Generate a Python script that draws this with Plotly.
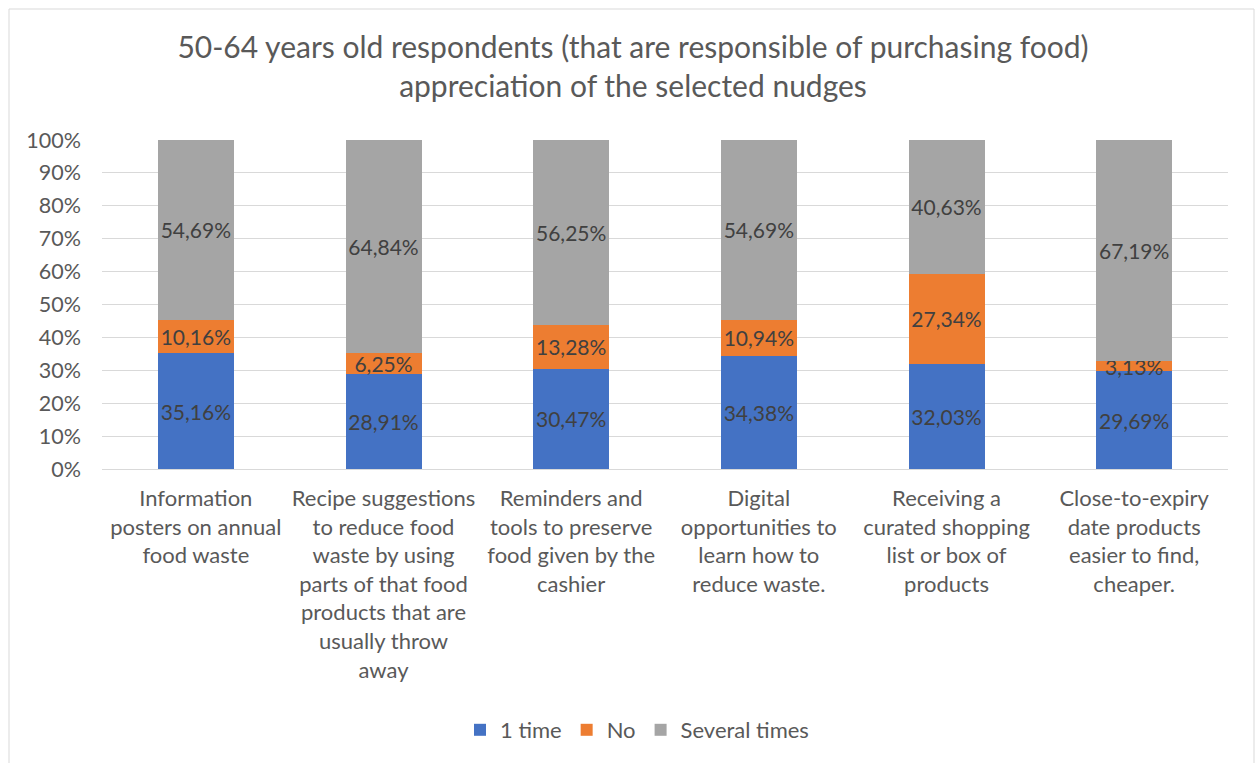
import plotly.graph_objects as go

categories = [
    "Information<br>posters on annual<br>food waste",
    "Recipe suggestions<br>to reduce food<br>waste by using<br>parts of that food<br>products that are<br>usually throw<br>away",
    "Reminders and<br>tools to preserve<br>food given by the<br>cashier",
    "Digital<br>opportunities to<br>learn how to<br>reduce waste.",
    "Receiving a<br>curated shopping<br>list or box of<br>products",
    "Close-to-expiry<br>date products<br>easier to find,<br>cheaper.",
]
one_time = [35.16, 28.91, 30.47, 34.38, 32.03, 29.69]
no = [10.16, 6.25, 13.28, 10.94, 27.34, 3.13]
several_times = [54.69, 64.84, 56.25, 54.69, 40.63, 67.19]

series = [
    ("1 time", one_time, "#4472C4"),
    ("No", no, "#ED7D31"),
    ("Several times", several_times, "#A5A5A5"),
]

FONT = "Lato"
W, H = 1257, 763
L, R, T, B = 102, 29, 140, 294
plot_w, plot_h = W - L - R, H - T - B

fig = go.Figure()
for name, vals, color in series:
    fig.add_trace(go.Bar(
        name=name,
        x=list(range(len(categories))),
        y=vals,
        marker=dict(color=color, line=dict(width=0)),
        texttemplate="%{y:.2f}%",
        textposition="inside",
        insidetextanchor="middle",
        constraintext="none",
        textangle=0,
        textfont=dict(family=FONT, size=21, color="#404040"),
        hoverinfo="skip",
    ))

# chart frame
def px_x(p):
    return (p - L) / plot_w

def px_y(p):
    return (H - B - p) / plot_h

fig.add_shape(type="rect", xref="paper", yref="paper",
              x0=px_x(9), x1=px_x(1254), y0=px_y(775), y1=px_y(9),
              line=dict(color="#D9D9D9", width=1), fillcolor="rgba(0,0,0,0)",
              layer="below")

fig.update_layout(
    width=W, height=H,
    margin=dict(l=L, r=R, t=T, b=B, autoexpand=False),
    paper_bgcolor="white", plot_bgcolor="white",
    barmode="stack", bargap=0.595,
    separators=",.",
    font=dict(family=FONT, color="#595959"),
    title=dict(
        text="50-64 years old respondents (that are responsible of purchasing food)<br>appreciation of the selected nudges",
        font=dict(family=FONT, size=30, color="#595959"),
        x=633 / W, xanchor="center", xref="container",
        y=1 - 58 / H, yanchor="top", yref="container",
    ),
    xaxis=dict(
        tickmode="array", tickvals=list(range(len(categories))), ticktext=categories,
        range=[-0.5, len(categories) - 0.5],
        showgrid=False, showline=False, zeroline=False, ticks="",
        tickfont=dict(family=FONT, size=22, color="#595959"),
        tickangle=0,
        ticklabelstandoff=14,
    ),
    yaxis=dict(
        range=[0, 100], dtick=10, ticksuffix="%",
        showgrid=True, gridcolor="#D9D9D9", gridwidth=1,
        zeroline=True, zerolinecolor="#D9D9D9", zerolinewidth=1,
        showline=False, ticks="",
        tickfont=dict(family=FONT, size=21.5, color="#595959"),
        ticklabelstandoff=20,
    ),
    legend=dict(
        orientation="h", x=px_x(637), xanchor="center",
        y=px_y(730), yanchor="middle",
        font=dict(family=FONT, size=22, color="#595959"),
        traceorder="normal", itemsizing="constant",
    ),
    showlegend=True,
)

fig.write_html("out.html")
